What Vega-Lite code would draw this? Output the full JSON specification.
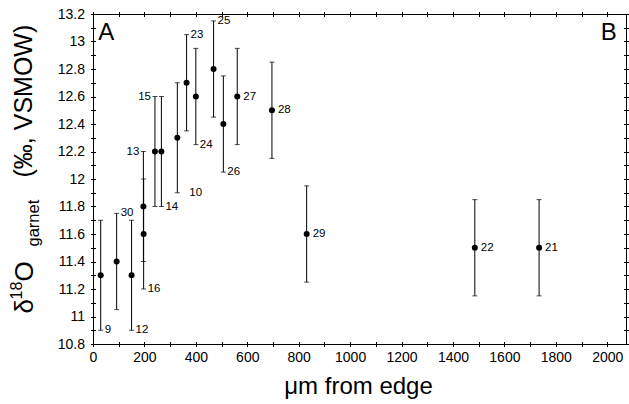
{
  "$schema": "https://vega.github.io/schema/vega-lite/v6.json",
  "width": 533,
  "height": 330,
  "autosize": {"type": "none"},
  "padding": {"left": 93, "top": 14, "right": 3, "bottom": 60},
  "background": "white",
  "config": {
    "font": "Liberation Sans",
    "view": {"stroke": "black", "strokeWidth": 1},
    "axis": {
      "grid": false,
      "domain": false,
      "tickColor": "black",
      "tickWidth": 1,
      "labelColor": "black",
      "titleColor": "black",
      "titleFontWeight": "normal",
      "labelFont": "Liberation Sans",
      "titleFont": "Liberation Sans"
    }
  },
  "data": {
    "values": [
      {"id": "9", "x": 30, "y": 11.3, "lo": 10.9, "hi": 11.7, "pos": "below"},
      {"id": "30", "x": 92, "y": 11.4, "lo": 11.05, "hi": 11.75, "pos": "above"},
      {"id": "12", "x": 150, "y": 11.3, "lo": 10.9, "hi": 11.7, "pos": "below"},
      {"id": "13", "x": 196, "y": 11.8, "lo": 11.4, "hi": 12.2, "pos": "aboveLeft"},
      {"id": "16", "x": 197, "y": 11.6, "lo": 11.2, "hi": 12.0, "pos": "below"},
      {"id": "15", "x": 241, "y": 12.2, "lo": 11.8, "hi": 12.6, "pos": "aboveLeft"},
      {"id": "14", "x": 266, "y": 12.2, "lo": 11.8, "hi": 12.6, "pos": "below"},
      {"id": "10", "x": 328, "y": 12.3, "lo": 11.9, "hi": 12.7, "pos": "belowFar"},
      {"id": "23", "x": 364, "y": 12.7, "lo": 12.35, "hi": 13.05, "pos": "above"},
      {"id": "24", "x": 400, "y": 12.6, "lo": 12.25, "hi": 12.95, "pos": "below"},
      {"id": "25", "x": 469, "y": 12.8, "lo": 12.45, "hi": 13.15, "pos": "above"},
      {"id": "26", "x": 507, "y": 12.4, "lo": 12.05, "hi": 12.75, "pos": "below"},
      {"id": "27", "x": 561, "y": 12.6, "lo": 12.25, "hi": 12.95, "pos": "beside"},
      {"id": "28", "x": 696, "y": 12.5, "lo": 12.15, "hi": 12.85, "pos": "beside"},
      {"id": "29", "x": 831, "y": 11.6, "lo": 11.25, "hi": 11.95, "pos": "beside"},
      {"id": "22", "x": 1485, "y": 11.5, "lo": 11.15, "hi": 11.85, "pos": "beside"},
      {"id": "21", "x": 1735, "y": 11.5, "lo": 11.15, "hi": 11.85, "pos": "beside"}
    ]
  },
  "resolve": {"axis": {"x": "independent", "y": "independent"}},
  "layer": [
    {
      "mark": {"type": "rule", "color": "black", "strokeWidth": 1},
      "encoding": {
        "x": {"field": "x", "type": "quantitative", "scale": {"domain": [0, 2073], "nice": false},
          "axis": {"orient": "bottom", "offset": -2.5, "tickSize": 5,
            "values": [0,100,200,300,400,500,600,700,800,900,1000,1100,1200,1300,1400,1500,1600,1700,1800,1900,2000],
            "labelExpr": "datum.value % 200 === 0 ? format(datum.value, 'd') : ''",
            "labelFontSize": 14, "labelPadding": 4, "labelFlush": false, "labelOverlap": false,
            "title": "μm from edge", "titleFontSize": 24, "titleX": 265, "titleY": 51.5,
            "titleAlign": "center", "titleBaseline": "alphabetic"}},
        "y": {"field": "lo", "type": "quantitative", "scale": {"domain": [10.8, 13.2], "nice": false, "zero": false},
          "axis": {"orient": "left", "offset": -2.5, "tickSize": 5,
            "values": [10.8,10.9,11,11.1,11.2,11.3,11.4,11.5,11.6,11.7,11.8,11.9,12,12.1,12.2,12.3,12.4,12.5,12.6,12.7,12.8,12.9,13,13.1,13.2],
            "labelExpr": "round(datum.value * 10) % 2 === 0 ? format(datum.value, '~g') : ''",
            "labelFontSize": 14, "labelPadding": 6, "labelFlush": false, "labelOverlap": false,
            "title": null}},
        "y2": {"field": "hi"}
      }
    },
    {
      "mark": {"type": "tick", "orient": "horizontal", "color": "black", "size": 5, "thickness": 1},
      "encoding": {
        "x": {"field": "x", "type": "quantitative", "scale": {"domain": [0, 2073], "nice": false},
          "axis": {"orient": "top", "offset": -2.5, "tickSize": 5, "labels": false, "title": null,
            "values": [0,100,200,300,400,500,600,700,800,900,1000,1100,1200,1300,1400,1500,1600,1700,1800,1900,2000]}},
        "y": {"field": "lo", "type": "quantitative", "scale": {"domain": [10.8, 13.2], "nice": false, "zero": false},
          "axis": {"orient": "right", "offset": -2.5, "tickSize": 5, "labels": false, "title": null,
            "values": [10.8,10.9,11,11.1,11.2,11.3,11.4,11.5,11.6,11.7,11.8,11.9,12,12.1,12.2,12.3,12.4,12.5,12.6,12.7,12.8,12.9,13,13.1,13.2]}}
      }
    },
    {
      "mark": {"type": "tick", "orient": "horizontal", "color": "black", "size": 5, "thickness": 1},
      "encoding": {
        "x": {"field": "x", "type": "quantitative", "scale": {"domain": [0, 2073], "nice": false}, "axis": null},
        "y": {"field": "hi", "type": "quantitative", "scale": {"domain": [10.8, 13.2], "nice": false, "zero": false},
          "axis": {"orient": "left", "ticks": false, "labels": false, "title": "δ",
            "titleX": -61, "titleY": 299, "titleAngle": -90, "titleAlign": "left", "titleBaseline": "alphabetic", "titleFontSize": 26}}
      }
    },
    {
      "mark": {"type": "point", "filled": true, "color": "black", "opacity": 1, "size": 36},
      "encoding": {
        "x": {"field": "x", "type": "quantitative", "scale": {"domain": [0, 2073], "nice": false}, "axis": null},
        "y": {"field": "y", "type": "quantitative", "scale": {"domain": [10.8, 13.2], "nice": false, "zero": false},
          "axis": {"orient": "left", "ticks": false, "labels": false, "title": "18",
            "titleX": -72, "titleY": 285, "titleAngle": -90, "titleAlign": "left", "titleBaseline": "alphabetic", "titleFontSize": 16}}
      }
    },
    {
      "transform": [{"filter": "datum.pos === 'above'"}],
      "mark": {"type": "text", "align": "left", "baseline": "middle", "dx": 4, "fontSize": 11.5, "color": "black"},
      "encoding": {
        "x": {"field": "x", "type": "quantitative", "scale": {"domain": [0, 2073], "nice": false}, "axis": null},
        "y": {"field": "hi", "type": "quantitative", "scale": {"domain": [10.8, 13.2], "nice": false, "zero": false},
          "axis": {"orient": "left", "ticks": false, "labels": false, "title": "O",
            "titleX": -61, "titleY": 267, "titleAngle": -90, "titleAlign": "left", "titleBaseline": "alphabetic", "titleFontSize": 26}},
        "text": {"field": "id", "type": "nominal"}
      }
    },
    {
      "transform": [{"filter": "datum.pos === 'aboveLeft'"}],
      "mark": {"type": "text", "align": "right", "baseline": "middle", "dx": -4, "fontSize": 11.5, "color": "black"},
      "encoding": {
        "x": {"field": "x", "type": "quantitative", "scale": {"domain": [0, 2073], "nice": false}, "axis": null},
        "y": {"field": "hi", "type": "quantitative", "scale": {"domain": [10.8, 13.2], "nice": false, "zero": false},
          "axis": {"orient": "left", "ticks": false, "labels": false, "title": "garnet",
            "titleX": -55, "titleY": 232, "titleAngle": -90, "titleAlign": "left", "titleBaseline": "alphabetic", "titleFontSize": 16.5}},
        "text": {"field": "id", "type": "nominal"}
      }
    },
    {
      "transform": [{"filter": "datum.pos === 'below'"}],
      "mark": {"type": "text", "align": "left", "baseline": "middle", "dx": 4, "fontSize": 11.5, "color": "black"},
      "encoding": {
        "x": {"field": "x", "type": "quantitative", "scale": {"domain": [0, 2073], "nice": false}, "axis": null},
        "y": {"field": "lo", "type": "quantitative", "scale": {"domain": [10.8, 13.2], "nice": false, "zero": false},
          "axis": {"orient": "left", "ticks": false, "labels": false, "title": "(‰, VSMOW)",
            "titleX": -62, "titleY": 163, "titleAngle": -90, "titleAlign": "left", "titleBaseline": "alphabetic", "titleFontSize": 25}},
        "text": {"field": "id", "type": "nominal"}
      }
    },
    {
      "transform": [{"filter": "datum.pos === 'belowFar'"}],
      "mark": {"type": "text", "align": "left", "baseline": "middle", "dx": 12, "fontSize": 11.5, "color": "black"},
      "encoding": {
        "x": {"field": "x", "type": "quantitative", "scale": {"domain": [0, 2073], "nice": false}, "axis": null},
        "y": {"field": "lo", "type": "quantitative", "scale": {"domain": [10.8, 13.2], "nice": false, "zero": false}, "axis": null},
        "text": {"field": "id", "type": "nominal"}
      }
    },
    {
      "transform": [{"filter": "datum.pos === 'beside'"}],
      "mark": {"type": "text", "align": "left", "baseline": "middle", "dx": 6, "fontSize": 11.5, "color": "black"},
      "encoding": {
        "x": {"field": "x", "type": "quantitative", "scale": {"domain": [0, 2073], "nice": false}, "axis": null},
        "y": {"field": "y", "type": "quantitative", "scale": {"domain": [10.8, 13.2], "nice": false, "zero": false}, "axis": null},
        "text": {"field": "id", "type": "nominal"}
      }
    },
    {
      "data": {"values": [
        {"letter": "A", "x": 20, "y": 13.01},
        {"letter": "B", "x": 1975, "y": 13.01}
      ]},
      "mark": {"type": "text", "align": "left", "baseline": "alphabetic", "fontSize": 24, "color": "black"},
      "encoding": {
        "x": {"field": "x", "type": "quantitative", "scale": {"domain": [0, 2073], "nice": false}, "axis": null},
        "y": {"field": "y", "type": "quantitative", "scale": {"domain": [10.8, 13.2], "nice": false, "zero": false}, "axis": null},
        "text": {"field": "letter", "type": "nominal"}
      }
    }
  ]
}
